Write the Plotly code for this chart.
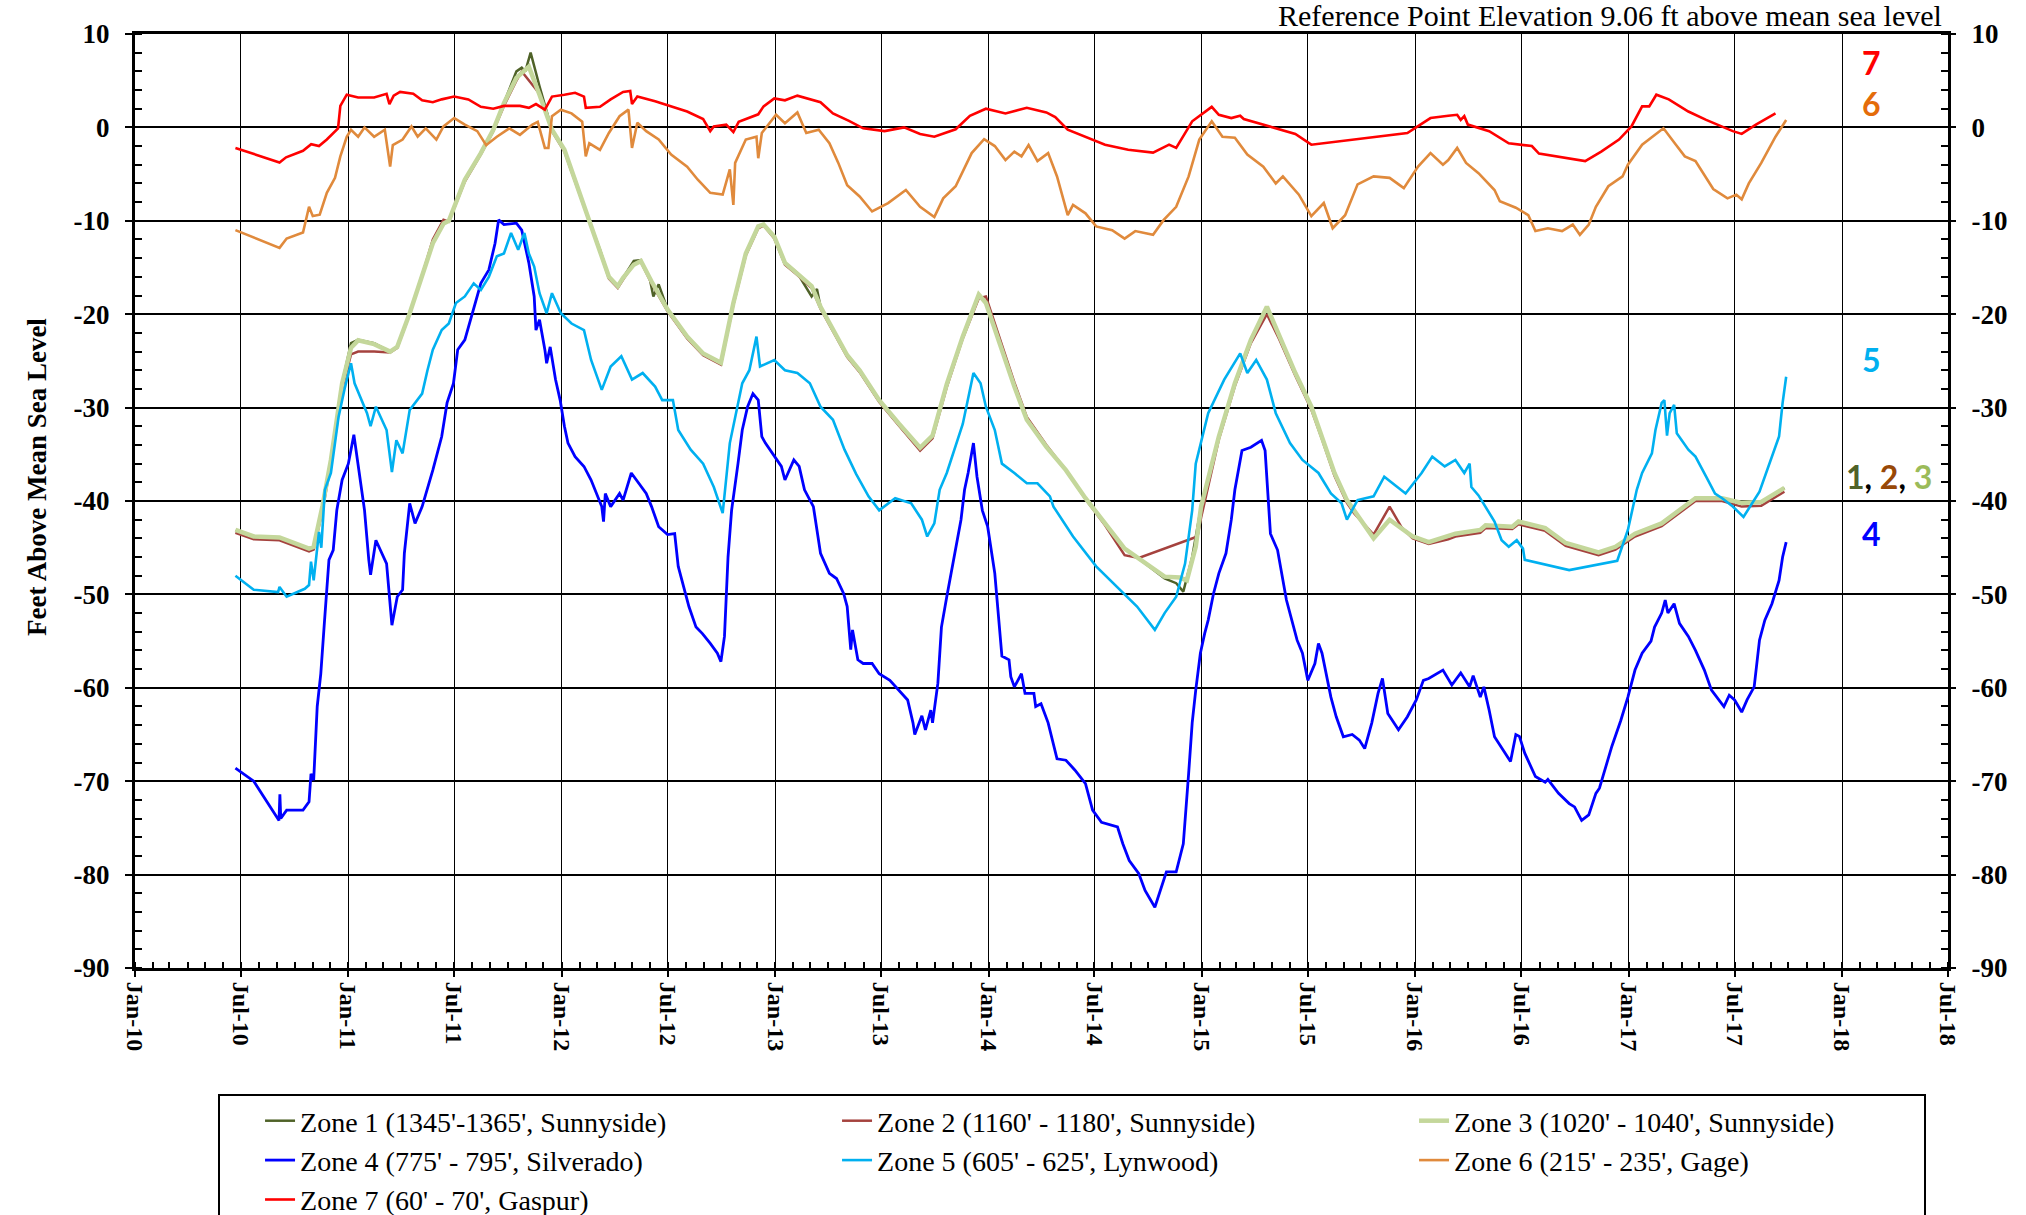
import numpy as np
import pandas as pd
import plotly.graph_objects as go

# ---------------- data (months after 1 Jul 2010, feet above MSL) ----------------
ZONE1 = [(-0.3,-43.2),(0.73,-43.9),(2.18,-44.0),(3.84,-45.2),(4.1,-45.0),(4.6,-40.5),(5.07,-35.6),(5.7,-27.4),
 (6.2,-23.1),(6.6,-22.75),(7.5,-23.1),(8.4,-24.0),(8.8,-23.5),(9.5,-19.9),(10.3,-15.3),(10.8,-12.4),(11.4,-10.3),
 (11.7,-10.0),(12.6,-5.6),(13.5,-2.75),(14.2,-0.25),(14.8,2.6),(15.5,6.0),(15.8,6.4),(16.0,6.0),(16.3,8.0),(16.8,4.4),
 (17.5,-0.25),(18.2,-2.4),(18.8,-5.6),(19.5,-9.5),(20.2,-13.1),(20.7,-16.0),(21.2,-17.0),(21.5,-16.1),(22.1,-14.3),
 (22.5,-14.2),(23.0,-16.2),(23.2,-18.1),(23.5,-16.8),(24.0,-19.5),(25.1,-22.4),(26.0,-24.2),(27.0,-25.2),(27.7,-18.8),
 (28.4,-13.5),(29.1,-10.6),(29.4,-10.4),(30.0,-11.7),(30.6,-14.5),(31.3,-15.6),(32.1,-18.1),(32.4,-17.3),(32.6,-19.2),
 (33.3,-21.7),(34.1,-24.4),(34.8,-26.0),(35.9,-29.2),(37.0,-31.7),(38.2,-34.4),(38.9,-33.0),(39.7,-27.5),(40.6,-22.4),
 (41.5,-17.9),(41.9,-18.8),(42.6,-22.75),(43.5,-27.75),(44.2,-31.3),(45.3,-34.2),(46.4,-36.7),(47.5,-39.7),(48.6,-42.4),
 (49.7,-45.1),(50.8,-46.6),(51.95,-48.3),(52.6,-48.8),(53.0,-49.7),(53.5,-46.0),(54.0,-40.6),(55.0,-33.1),(55.9,-27.4),
 (56.8,-22.75),(57.7,-19.4),(58.4,-22.4),(59.3,-26.3),(60.2,-29.9),(60.8,-33.1),(61.5,-37.0),(62.2,-39.9),(62.6,-41.0),
 (63.7,-44.0),(64.6,-42.0),(65.3,-42.9),(65.9,-43.8),(66.8,-44.4),(67.9,-43.8),(68.3,-43.5),(69.7,-43.1),(70.0,-42.6),
 (71.5,-42.75),(71.85,-42.2),(73.35,-42.9),(74.5,-44.5),(76.35,-45.5),(77.3,-44.9),(78.4,-43.5),(79.9,-42.4),
 (81.8,-39.7),(83.3,-39.7),(84.4,-40.2),(85.5,-40.1),(86.8,-38.6)]

ZONE2 = [(-0.3,-43.4),(0.73,-44.1),(2.18,-44.2),(3.84,-45.4),(4.1,-45.2),(4.6,-41.0),(5.07,-36.0),(5.7,-28.0),
 (6.2,-24.3),(6.6,-24.0),(7.5,-24.0),(8.4,-24.1),(8.8,-23.6),(9.5,-20.0),(10.3,-15.2),(10.8,-12.0),(11.4,-9.9),
 (11.7,-10.1),(12.6,-5.8),(13.5,-2.9),(14.2,-0.4),(14.8,2.3),(15.5,5.0),(15.8,6.0),(16.8,3.6),(17.5,-0.4),(18.2,-2.6),
 (18.8,-5.8),(19.5,-9.7),(20.2,-13.3),(20.7,-16.2),(21.2,-17.2),(21.5,-16.3),(22.1,-14.6),(22.5,-14.4),(23.1,-16.7),
 (24.0,-19.7),(25.1,-22.6),(26.0,-24.4),(27.0,-25.4),(27.7,-19.0),(28.4,-13.7),(29.1,-10.8),(29.4,-10.5),(30.0,-11.9),
 (30.6,-14.7),(31.3,-15.8),(32.1,-17.2),(32.6,-19.4),(33.3,-21.9),(34.1,-24.6),(34.8,-26.2),(35.9,-29.4),(37.0,-31.9),
 (38.2,-34.6),(38.9,-33.3),(39.7,-27.8),(40.6,-22.6),(41.5,-18.3),(41.9,-18.1),(42.6,-22.2),(43.5,-27.3),(44.2,-31.0),
 (45.3,-34.0),(46.4,-36.7),(47.5,-39.8),(48.6,-42.6),(49.7,-45.8),(50.5,-46.1),(53.8,-43.8),(54.0,-41.8),(55.0,-33.4),
 (55.9,-27.7),(56.8,-23.1),(57.7,-20.0),(58.4,-22.7),(59.3,-26.6),(60.2,-30.2),(60.8,-33.4),(61.5,-37.3),(62.2,-40.2),
 (62.6,-41.3),(63.7,-43.6),(64.6,-40.6),(65.3,-42.9),(65.9,-44.0),(66.8,-44.6),(67.9,-44.1),(68.3,-43.8),(69.7,-43.4),
 (70.0,-42.9),(71.5,-43.0),(71.85,-42.5),(73.35,-43.2),(74.5,-44.8),(76.35,-45.8),(77.3,-45.2),(78.4,-43.8),
 (79.9,-42.7),(81.8,-40.0),(83.3,-40.0),(84.4,-40.6),(85.5,-40.5),(86.8,-39.0)]

ZONE3 = [(-0.3,-43.1),(0.73,-43.8),(2.18,-43.9),(3.84,-45.1),(4.1,-44.9),(4.6,-40.5),(5.07,-35.6),(5.7,-27.4),
 (6.2,-23.6),(6.6,-22.8),(7.5,-23.2),(8.4,-24.0),(8.8,-23.5),(9.5,-19.9),(10.3,-15.3),(10.8,-12.4),(11.4,-10.3),
 (11.7,-10.0),(12.6,-5.6),(13.5,-2.75),(14.2,-0.25),(14.8,2.6),(15.5,5.3),(16.2,6.5),(16.8,3.5),(17.5,-0.25),
 (18.2,-2.4),(18.8,-5.6),(19.5,-9.5),(20.2,-13.1),(20.7,-16.0),(21.2,-17.0),(21.5,-16.1),(22.1,-14.7),(22.5,-14.3),
 (23.1,-16.5),(24.0,-19.5),(25.1,-22.4),(26.0,-24.2),(27.0,-25.2),(27.7,-18.8),(28.4,-13.5),(29.1,-10.6),(29.4,-10.4),
 (30.0,-11.7),(30.6,-14.5),(31.3,-15.6),(32.1,-17.0),(32.6,-19.2),(33.3,-21.7),(34.1,-24.4),(34.8,-26.0),(35.9,-29.2),
 (37.0,-31.7),(38.2,-34.3),(38.9,-33.0),(39.7,-27.5),(40.6,-22.4),(41.5,-17.9),(41.9,-18.8),(42.6,-22.75),(43.5,-27.75),
 (44.2,-31.3),(45.3,-34.2),(46.4,-36.7),(47.5,-39.7),(48.6,-42.4),(49.7,-45.1),(51.95,-48.1),(52.8,-48.2),(53.2,-48.5),
 (53.7,-44.9),(54.0,-40.6),(55.0,-33.1),(55.9,-27.4),(56.8,-22.75),(57.7,-19.2),(58.4,-22.4),(59.3,-26.3),(60.2,-29.9),
 (60.8,-33.1),(61.5,-37.0),(62.2,-39.9),(62.6,-41.0),(63.7,-44.0),(64.6,-42.0),(65.3,-42.9),(65.9,-43.8),(66.8,-44.4),
 (67.9,-43.8),(68.3,-43.5),(69.7,-43.1),(70.0,-42.6),(71.5,-42.75),(71.85,-42.2),(73.35,-42.9),(74.5,-44.5),
 (76.35,-45.5),(77.3,-44.9),(78.4,-43.5),(79.9,-42.4),(81.8,-39.7),(83.3,-39.7),(84.4,-40.2),(85.5,-40.1),(86.8,-38.6)]

ZONE4 = [(-0.3,-68.6),(0.73,-70.0),(2.15,-74.2),(2.2,-71.4),(2.25,-74.0),(2.58,-73.1),(3.5,-73.1),(3.84,-72.2),
 (3.95,-69.2),(4.1,-69.9),(4.3,-62.0),(4.5,-58.5),(4.7,-53.1),(4.96,-46.3),(5.2,-45.25),(5.4,-41.0),(5.7,-37.75),
 (6.05,-36.0),(6.36,-32.9),(6.6,-36.0),(6.96,-41.0),(7.2,-46.3),(7.3,-47.9),(7.6,-44.2),(7.95,-45.6),(8.2,-46.7),
 (8.5,-53.3),(8.8,-50.25),(9.1,-49.5),(9.2,-45.6),(9.5,-40.25),(9.8,-42.4),(10.2,-40.6),(10.4,-39.3),(10.8,-36.7),
 (11.3,-33.1),(11.6,-29.5),(11.96,-27.4),(12.2,-23.8),(12.6,-22.75),(13.1,-19.5),(13.5,-16.7),(13.95,-15.25),
 (14.3,-12.4),(14.5,-9.9),(14.8,-10.4),(15.5,-10.25),(15.8,-11.0),(16.2,-14.5),(16.5,-18.1),(16.6,-21.7),(16.8,-20.6),
 (17.1,-23.8),(17.2,-25.25),(17.4,-23.5),(17.7,-27.0),(17.96,-29.2),(18.2,-32.0),(18.4,-33.8),(18.8,-35.25),
 (19.3,-36.3),(19.7,-37.75),(20.3,-40.6),(20.4,-42.2),(20.5,-39.2),(20.8,-40.6),(21.3,-39.2),(21.5,-39.9),
 (21.96,-37.0),(22.4,-38.1),(22.8,-39.2),(23.1,-40.6),(23.3,-41.7),(23.5,-42.75),(24.0,-43.6),(24.4,-43.5),
 (24.6,-47.0),(24.96,-49.5),(25.2,-51.3),(25.6,-53.5),(25.96,-54.2),(26.4,-55.25),(26.8,-56.3),(27.0,-57.2),
 (27.2,-54.5),(27.4,-46.0),(27.6,-41.0),(27.96,-36.0),(28.2,-32.4),(28.5,-29.9),(28.8,-28.5),(29.1,-29.2),
 (29.3,-33.1),(29.5,-33.8),(29.96,-35.1),(30.4,-36.3),(30.6,-37.75),(31.1,-35.6),(31.4,-36.3),(31.7,-38.8),
 (32.2,-40.6),(32.6,-45.6),(33.1,-47.75),(33.5,-48.3),(33.9,-49.9),(34.1,-51.3),(34.3,-55.9),(34.4,-53.8),
 (34.7,-57.0),(35.0,-57.4),(35.5,-57.4),(35.9,-58.5),(36.5,-59.2),(37.0,-60.25),(37.5,-61.3),(37.8,-63.75),
 (37.9,-65.0),(38.3,-63.0),(38.5,-64.5),(38.8,-62.4),(38.9,-63.75),(39.2,-59.5),(39.4,-53.5),(39.7,-50.25),
 (40.2,-45.25),(40.5,-42.0),(40.7,-38.8),(40.9,-37.0),(41.2,-33.8),(41.4,-37.4),(41.7,-41.0),(42.0,-42.75),
 (42.4,-47.75),(42.8,-56.6),(43.2,-57.0),(43.3,-58.8),(43.5,-59.9),(43.9,-58.5),(44.1,-60.6),(44.6,-60.6),
 (44.7,-62.0),(45.0,-61.7),(45.4,-63.75),(45.8,-67.0),(45.9,-67.6),(46.4,-67.75),(46.9,-68.8),(47.5,-70.25),
 (47.9,-73.1),(48.4,-74.4),(49.3,-74.9),(49.6,-76.7),(49.96,-78.5),(50.5,-79.9),(50.85,-81.7),(51.4,-83.5),
 (51.8,-81.3),(52.05,-79.7),(52.6,-79.7),(52.8,-78.1),(53.0,-76.7),(53.3,-69.2),(53.5,-63.75),(53.7,-60.25),
 (53.96,-56.3),(54.2,-54.2),(54.4,-52.75),(54.7,-49.9),(55.0,-47.75),(55.4,-45.6),(55.7,-42.0),(55.9,-38.8),
 (56.3,-34.6),(56.8,-34.25),(57.4,-33.5),(57.6,-34.6),(57.8,-41.0),(57.9,-43.5),(58.3,-45.25),(58.8,-50.6),
 (59.4,-54.9),(59.7,-56.3),(60.0,-59.2),(60.4,-57.4),(60.6,-55.25),(60.8,-56.3),(61.3,-61.0),(61.6,-63.1),
 (62.0,-65.25),(62.5,-65.0),(62.9,-65.6),(63.2,-66.5),(63.6,-63.75),(63.95,-60.6),(64.2,-59.0),(64.5,-62.75),
 (65.1,-64.5),(65.6,-63.1),(66.1,-61.3),(66.5,-59.2),(66.8,-59.0),(67.6,-58.1),(68.1,-59.7),(68.6,-58.4),
 (69.1,-59.9),(69.3,-58.7),(69.7,-61.0),(69.9,-59.9),(70.2,-62.4),(70.5,-65.25),(71.1,-67.0),(71.4,-67.9),
 (71.7,-65.0),(71.9,-65.2),(72.2,-67.0),(72.8,-69.5),(73.35,-70.1),(73.5,-69.8),(74.1,-71.3),(74.7,-72.4),
 (75.0,-72.75),(75.4,-74.2),(75.8,-73.6),(76.2,-71.3),(76.4,-70.75),(76.7,-68.75),(77.1,-66.25),(77.6,-63.5),
 (78.0,-61.0),(78.4,-58.1),(78.8,-56.3),(79.3,-55.0),(79.5,-53.5),(79.9,-52.0),(80.1,-50.6),(80.25,-52.0),
 (80.6,-51.0),(80.9,-53.1),(81.4,-54.5),(81.8,-56.0),(82.3,-58.1),(82.7,-60.25),(83.1,-61.3),(83.4,-62.0),
 (83.7,-60.8),(84.0,-61.3),(84.4,-62.6),(84.7,-61.3),(85.1,-59.9),(85.4,-54.9),(85.7,-52.75),(86.1,-51.0),
 (86.5,-48.5),(86.7,-46.0),(86.9,-44.4)]

ZONE5 = [(-0.3,-48.0),(0.73,-49.5),(2.1,-49.75),(2.18,-49.2),(2.58,-50.25),(3.6,-49.4),(3.84,-49.0),(3.95,-46.5),
 (4.1,-48.5),(4.3,-44.5),(4.4,-43.3),(4.53,-45.0),(4.73,-38.8),(5.07,-37.0),(5.5,-31.0),(5.85,-27.9),(6.2,-25.25),
 (6.4,-27.4),(7.1,-30.6),(7.3,-32.0),(7.6,-29.9),(8.2,-32.4),(8.5,-36.9),(8.75,-33.5),(9.1,-34.9),(9.5,-30.25),
 (10.2,-28.5),(10.5,-26.0),(10.8,-23.8),(11.3,-21.7),(11.7,-21.0),(12.1,-18.8),(12.6,-18.1),(13.1,-16.7),(13.5,-17.4),
 (13.95,-16.0),(14.4,-13.8),(14.8,-13.5),(15.2,-11.3),(15.6,-13.1),(15.95,-11.3),(16.2,-13.5),(16.5,-14.9),
 (16.8,-17.75),(17.2,-19.9),(17.5,-17.75),(18.0,-19.9),(18.6,-21.0),(19.3,-21.7),(19.7,-24.9),(20.3,-28.1),
 (20.8,-25.6),(21.4,-24.5),(22.0,-27.0),(22.6,-26.3),(23.3,-27.75),(23.7,-29.2),(24.3,-29.2),(24.6,-32.4),
 (25.3,-34.5),(26.0,-36.0),(26.6,-38.5),(27.1,-41.3),(27.5,-33.8),(28.2,-27.4),(28.6,-26.0),(29.0,-22.4),
 (29.2,-25.6),(30.0,-24.9),(30.6,-26.0),(31.3,-26.3),(32.0,-27.4),(32.6,-29.9),(33.3,-31.3),(33.95,-34.5),
 (34.6,-37.1),(35.3,-39.5),(35.9,-41.0),(36.8,-39.7),(37.7,-40.25),(38.3,-42.0),(38.6,-43.8),(39.0,-42.4),
 (39.3,-38.8),(39.7,-37.0),(40.6,-31.75),(41.2,-26.3),(41.6,-27.4),(41.9,-29.9),(42.4,-32.4),(42.8,-36.0),
 (43.5,-37.0),(44.2,-38.1),(44.8,-38.1),(45.5,-39.5),(45.7,-40.6),(46.8,-43.8),(48.1,-47.0),(49.3,-49.3),
 (50.4,-51.3),(51.4,-53.8),(51.95,-52.0),(52.6,-50.25),(53.1,-46.7),(53.5,-41.0),(53.7,-36.0),(54.4,-30.6),
 (55.3,-27.0),(56.2,-24.2),(56.6,-26.3),(57.1,-24.9),(57.7,-27.0),(58.2,-30.6),(59.0,-33.8),(59.7,-35.6),
 (60.6,-37.0),(61.3,-39.2),(61.9,-40.25),(62.2,-42.0),(62.8,-39.9),(63.7,-39.5),(64.3,-37.4),(65.5,-39.2),
 (66.4,-37.0),(67.0,-35.25),(67.7,-36.3),(68.3,-35.6),(68.8,-37.0),(69.1,-36.0),(69.2,-38.5),(69.6,-39.4),
 (70.1,-41.0),(70.5,-42.2),(70.9,-44.2),(71.3,-44.9),(71.75,-44.2),(72.1,-45.1),(72.2,-46.3),(74.7,-47.4),
 (77.4,-46.4),(78.0,-43.1),(78.5,-38.8),(78.8,-37.0),(79.35,-34.9),(79.55,-32.4),(79.9,-29.5),(80.05,-29.2),
 (80.2,-33.0),(80.35,-30.6),(80.6,-29.7),(80.75,-32.75),(81.4,-34.5),(81.8,-35.25),(82.4,-37.4),(82.9,-39.2),
 (83.3,-39.7),(83.9,-40.6),(84.5,-41.7),(85.4,-39.0),(86.5,-33.1),(86.7,-29.5),(86.9,-26.7)]

ZONE6 = [(-0.3,-11.0),(2.18,-12.9),(2.58,-11.9),(3.5,-11.25),(3.84,-8.5),(4.05,-9.5),(4.44,-9.35),(4.84,-7.0),
 (5.3,-5.4),(5.6,-3.1),(5.96,-1.0),(6.2,-0.25),(6.6,-1.0),(6.96,0.0),(7.5,-1.0),(8.1,-0.25),(8.4,-4.2),(8.55,-1.9),
 (9.1,-1.3),(9.6,0.1),(9.95,-1.0),(10.4,-0.1),(11.0,-1.3),(11.4,0.1),(12.0,1.0),(12.6,0.3),(13.3,-0.4),(13.8,-1.9),
 (14.4,-1.0),(15.1,-0.1),(15.7,-0.8),(16.4,0.3),(16.7,0.6),(17.1,-2.2),(17.3,-2.2),(17.5,1.2),(18.0,1.9),(18.6,1.5),
 (19.2,0.6),(19.4,-3.1),(19.6,-1.7),(20.2,-2.4),(20.7,-0.6),(21.3,1.2),(21.8,1.9),(22.0,-2.2),(22.3,0.5),(22.8,-0.4),
 (23.5,-1.3),(24.2,-2.9),(25.1,-4.2),(25.7,-5.6),(26.4,-7.0),(27.1,-7.2),(27.5,-4.5),(27.7,-8.3),(27.8,-3.8),
 (28.4,-1.3),(29.0,-1.0),(29.1,-3.3),(29.3,-0.6),(30.1,1.35),(30.6,0.45),(31.3,1.6),(31.8,-0.6),(32.5,-0.25),
 (33.1,-1.7),(33.6,-3.8),(34.1,-6.2),(34.8,-7.4),(35.5,-9.0),(36.4,-8.1),(37.4,-6.7),(38.2,-8.5),(39.0,-9.6),
 (39.5,-7.6),(40.2,-6.3),(41.1,-2.75),(41.8,-1.25),(42.4,-2.0),(43.0,-3.5),(43.5,-2.6),(43.9,-3.1),(44.3,-1.9),
 (44.8,-3.6),(45.4,-2.75),(45.9,-5.25),(46.5,-9.4),(46.8,-8.3),(47.5,-9.2),(48.1,-10.6),(49.0,-11.0),(49.7,-11.9),
 (50.3,-11.1),(51.3,-11.5),(51.9,-9.9),(52.6,-8.5),(53.3,-5.25),(53.9,-1.3),(54.6,0.65),(55.2,-1.0),(55.9,-1.1),
 (56.6,-2.9),(57.5,-4.2),(58.2,-6.0),(58.6,-5.25),(59.5,-7.2),(60.2,-9.5),(60.9,-8.1),(61.4,-10.8),(62.1,-9.4),
 (62.8,-6.1),(63.7,-5.25),(64.6,-5.4),(65.4,-6.5),(66.2,-4.2),(66.9,-2.75),(67.6,-4.0),(67.9,-3.5),(68.4,-2.2),
 (68.9,-3.8),(69.6,-4.9),(70.5,-6.7),(70.8,-7.9),(71.7,-8.6),(72.4,-9.4),(72.8,-11.1),(73.5,-10.8),(74.3,-11.1),
 (74.9,-10.4),(75.3,-11.5),(75.8,-10.4),(76.2,-8.5),(76.9,-6.3),(77.7,-5.25),(78.0,-4.0),(78.8,-1.85),(79.5,-0.8),
 (80.0,-0.1),(80.7,-1.85),(81.2,-3.1),(81.8,-3.6),(82.4,-5.4),(82.8,-6.6),(83.6,-7.6),(84.1,-7.2),(84.4,-7.7),
 (84.8,-6.0),(85.5,-3.8),(86.3,-1.0),(86.9,0.8)]

ZONE7 = [(-0.3,-2.2),(2.18,-3.75),(2.55,-3.2),(3.5,-2.5),(3.96,-1.8),(4.4,-2.0),(4.84,-1.3),(5.47,-0.1),(5.6,2.3),
 (5.96,3.5),(6.6,3.2),(7.5,3.2),(8.2,3.6),(8.36,2.5),(8.6,3.4),(8.96,3.8),(9.7,3.6),(10.2,2.9),(10.8,2.7),(11.3,3.0),
 (12.0,3.3),(12.8,3.0),(13.5,2.2),(14.2,2.0),(14.8,2.3),(15.7,2.3),(16.2,2.1),(16.6,2.5),(17.1,1.9),(17.5,3.3),
 (18.2,3.5),(18.8,3.7),(19.3,3.3),(19.4,2.1),(20.2,2.2),(20.8,3.0),(21.5,3.8),(21.9,3.9),(22.0,2.5),(22.3,3.3),
 (23.3,2.8),(24.0,2.4),(25.1,1.7),(26.0,0.9),(26.4,-0.4),(26.6,0.1),(27.3,0.3),(27.7,-0.5),(28.0,0.6),(29.1,1.4),
 (29.4,2.25),(30.0,3.1),(30.6,2.9),(31.3,3.4),(32.0,3.0),(32.6,2.7),(33.3,1.5),(34.2,0.7),(35.0,-0.1),(36.2,-0.4),
 (37.3,0.0),(38.2,-0.7),(39.0,-1.0),(40.2,-0.2),(41.0,1.25),(41.9,2.0),(43.0,1.5),(44.2,2.1),(45.3,1.6),(45.8,1.1),
 (46.5,-0.25),(47.7,-1.2),(48.6,-1.85),(49.9,-2.4),(51.3,-2.7),(52.2,-1.85),(52.6,-2.2),(53.5,0.65),(54.6,2.2),
 (55.0,1.35),(55.7,1.0),(56.2,1.25),(56.4,0.9),(59.3,-0.7),(60.2,-1.85),(65.6,-0.6),(66.9,1.0),(67.9,1.25),
 (68.4,1.35),(68.6,0.8),(68.8,1.2),(69.0,0.3),(70.2,-0.4),(71.3,-1.7),(72.6,-2.0),(73.0,-2.8),(74.3,-3.2),
 (75.6,-3.6),(76.5,-2.6),(77.5,-1.3),(78.2,0.1),(78.8,2.25),(79.2,2.25),(79.6,3.5),(80.3,3.0),(81.4,1.7),(82.4,0.8),
 (83.3,0.1),(83.9,-0.4),(84.4,-0.7),(85.2,0.3),(86.3,1.5)]

ZONE_NAMES = ["Zone 1 (1345'-1365', Sunnyside)", "Zone 2 (1160' - 1180', Sunnyside)",
              "Zone 3 (1020' - 1040', Sunnyside)", "Zone 4 (775' - 795', Silverado)",
              "Zone 5 (605' - 625', Lynwood)", "Zone 6 (215' - 235', Gage)", "Zone 7 (60' - 70', Gaspur)"]

Y_TICKS = [10, 0, -10, -20, -30, -40, -50, -60, -70, -80, -90]
Y_TICK_LABELS = ["10", "0", "-10", "-20", "-30", "-40", "-50", "-60", "-70", "-80", "-90"]
X_TICKS = ["2010-01-01", "2010-07-01", "2011-01-01", "2011-07-01", "2012-01-01", "2012-07-01",
           "2013-01-01", "2013-07-01", "2014-01-01", "2014-07-01", "2015-01-01", "2015-07-01",
           "2016-01-01", "2016-07-01", "2017-01-01", "2017-07-01", "2018-01-01", "2018-07-01"]
X_TICK_LABELS = ["Jan-10", "Jul-10", "Jan-11", "Jul-11", "Jan-12", "Jul-12", "Jan-13", "Jul-13", "Jan-14",
                 "Jul-14", "Jan-15", "Jul-15", "Jan-16", "Jul-16", "Jan-17", "Jul-17", "Jan-18", "Jul-18"]

# ---------------- figure ----------------
BASE = pd.Timestamp("2010-07-01")


def unpack(series):
    m = np.array([p[0] for p in series])
    v = [p[1] for p in series]
    d = BASE + pd.to_timedelta(m * 30.4375, unit="D")
    return d, v


COLORS = ["#4F6228", "#A5423E", "#C4D79B", "#0000FF", "#00B0F0", "#E08A3C", "#FF0000"]
WIDTHS = [2.5, 2.5, 4.5, 2.8, 2.6, 2.6, 2.6]
LEGEND_W = [None, None, 465, None, None, 465, None]
SERIES = [ZONE1, ZONE2, ZONE3, ZONE4, ZONE5, ZONE6, ZONE7]

fig = go.Figure()
for name, s, c, w, lw in zip(ZONE_NAMES, SERIES, COLORS, WIDTHS, LEGEND_W):
    d, v = unpack(s)
    fig.add_trace(go.Scatter(x=d, y=v, mode="lines", name=name, legendwidth=lw,
                             line=dict(color=c, width=w), hoverinfo="skip"))

# helper trace so that the right-hand axis is drawn
fig.add_trace(go.Scatter(x=[None], y=[None], yaxis="y2", showlegend=False, hoverinfo="skip"))

tick_font = dict(family="Liberation Serif", size=27, color="black", weight="bold")
minor_y = dict(dtick=2, tick0=0, ticks="inside", ticklen=7, tickwidth=1.5,
               tickcolor="black", showgrid=False)

fig.update_layout(
    width=2026, height=1215,
    margin=dict(l=135, r=78, t=34, b=247, autoexpand=False),
    plot_bgcolor="white", paper_bgcolor="white",
    font=dict(family="Liberation Serif", color="black"),
    showlegend=True,
    legend=dict(orientation="h", x=0.0458, xanchor="left", y=-0.1349, yanchor="top",
                entrywidth=492, entrywidthmode="pixels", indentation=40,
                bordercolor="black", borderwidth=2, bgcolor="white",
                font=dict(family="Liberation Serif", size=28, color="black"),
                tracegroupgap=0),
    xaxis=dict(type="date", range=["2010-01-01", "2018-07-01"], tickmode="array",
               tickvals=X_TICKS, ticktext=X_TICK_LABELS, tickangle=90, automargin=False,
               tickfont=dict(family="Liberation Serif", size=24, color="black", weight="bold"),
               showgrid=True, gridcolor="black", gridwidth=1.3,
               showline=True, linecolor="black", linewidth=3, mirror=True,
               ticks="outside", ticklen=6, tickwidth=2, tickcolor="black",
               minor=dict(dtick="M1", tick0="2010-01-01", ticks="inside", ticklen=6,
                          tickwidth=1.5, tickcolor="black", showgrid=False),
               zeroline=False),
    yaxis=dict(range=[-90, 10], tickmode="array", tickvals=Y_TICKS, ticktext=Y_TICK_LABELS,
               tickfont=tick_font, ticklabelstandoff=10, automargin=False,
               showgrid=True, gridcolor="black", gridwidth=2, zeroline=False,
               showline=True, linecolor="black", linewidth=3, mirror=True,
               ticks="outside", ticklen=7, tickwidth=2, tickcolor="black", minor=minor_y),
    yaxis2=dict(range=[-90, 10], overlaying="y", side="right", anchor="x", automargin=False,
                tickmode="array", tickvals=Y_TICKS, ticktext=Y_TICK_LABELS,
                tickfont=tick_font, ticklabelstandoff=10, showgrid=False, zeroline=False,
                showline=False, ticks="outside", ticklen=7, tickwidth=2, tickcolor="black",
                minor=minor_y),
)

fig.add_annotation(text="Feet Above Mean Sea Level", xref="paper", yref="paper",
                   x=-0.0634, y=0.5257, textangle=-90, showarrow=False,
                   font=dict(family="Liberation Serif", size=27, color="black", weight="bold"))
fig.add_annotation(text="Reference Point Elevation 9.06 ft above mean sea level",
                   xref="paper", yref="paper", x=1, y=1, xanchor="right", yanchor="bottom",
                   xshift=-4, showarrow=False,
                   font=dict(family="Liberation Serif", size=30, color="black"))

side_font = dict(family="Lato", size=32, weight="bold")
LABEL_X = "2018-02-20"
fig.add_annotation(text="7", x=LABEL_X, y=6.9, showarrow=False, font=dict(side_font, color="#FF0000"))
fig.add_annotation(text="6", x=LABEL_X, y=2.6, showarrow=False, font=dict(side_font, color="#E46C0A"))
fig.add_annotation(text="5", x=LABEL_X, y=-24.9, showarrow=False, font=dict(side_font, color="#00B0F0"))
fig.add_annotation(text="4", x=LABEL_X, y=-43.5, showarrow=False, font=dict(side_font, color="#0000FF"))
fig.add_annotation(
    text="<span style='color:#4F6228'>1</span>, <span style='color:#984807'>2</span>, "
         "<span style='color:#9BBB59'>3</span>",
    x="2018-03-22", y=-37.4, showarrow=False, font=dict(side_font, color="black"))

# remove the browser's default page margin so the figure sits at the page origin
fig.write_html("out.html", config={"displayModeBar": False},
               post_script="document.body.style.margin='0px';")
